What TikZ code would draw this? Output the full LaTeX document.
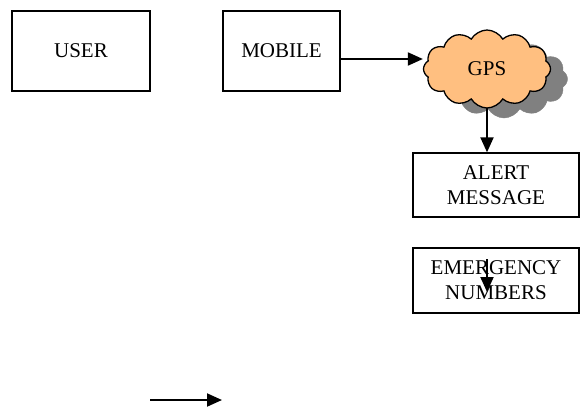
\documentclass[tikz,border=0pt]{standalone}
\usepackage{fontspec}
\setmainfont{Liberation Serif}
\usetikzlibrary{shapes.symbols,arrows.meta}
\definecolor{cloudfill}{RGB}{255,191,128}
\definecolor{shadowgray}{RGB}{128,128,128}
\pgfdeclarelayer{back}
\pgfdeclarelayer{mid}
\pgfsetlayers{back,mid,main}
\begin{document}
\begin{tikzpicture}[x=1pt,y=-1pt,
  box/.style={draw,line width=1.3pt,rectangle,inner sep=0pt,align=center,
    font=\fontsize{21}{25}\selectfont},
  arr/.style={line width=2pt,-{Triangle[length=15pt,width=13pt]}},
  cloudy/.style={cloud,cloud puffs=12,cloud puff arc=120,aspect=1.65,
    minimum width=127pt,minimum height=78pt,inner sep=0pt}]
\useasboundingbox (0,0) rectangle (580,410);
\node[box,minimum width=138pt,minimum height=80pt] (user) at (81,51) {USER};
\node[box,minimum width=117pt,minimum height=80pt] (mobile) at (281.5,51) {MOBILE};
\begin{pgfonlayer}{back}
\node[cloudy,fill=shadowgray,draw=shadowgray] (shadow) at (504,79) {};
\end{pgfonlayer}
\node[cloudy,fill=cloudfill,draw,line width=1.3pt,font=\fontsize{21}{25}\selectfont] (gps) at (487,69) {GPS};
\node[box,minimum width=166pt,minimum height=64pt] (alert) at (496,185) {ALERT\\MESSAGE};
\node[box,minimum width=166pt,minimum height=65pt] (emerg) at (496,280.5) {EMERGENCY\\NUMBERS};
\draw[arr] ([yshift=-8pt]mobile.east) -- ([yshift=-8pt]mobile.east -| gps.west);
\begin{pgfonlayer}{mid}
\draw[arr] (gps.center) -- (gps.center |- alert.north);
\end{pgfonlayer}
\coordinate (ia) at (487,259);
\coordinate (ib) at (487,292);
\draw[arr] (ia) -- (ib);
\coordinate (ba) at (150,400);
\coordinate (bb) at (222,400);
\draw[arr] (ba) -- (bb);
\end{tikzpicture}
\end{document}
